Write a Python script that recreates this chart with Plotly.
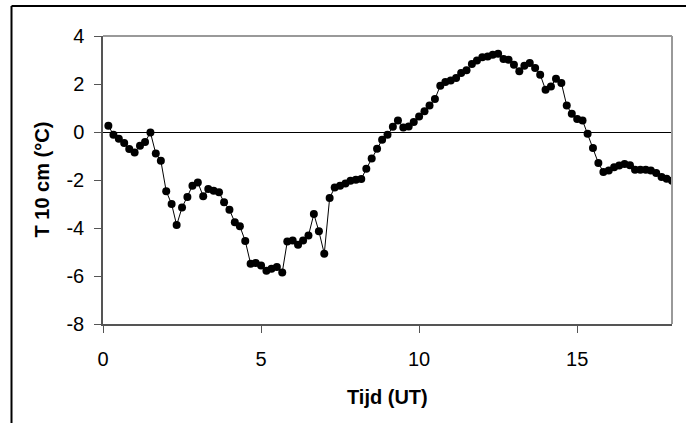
import plotly.graph_objects as go

# Time (UT, hours) at 10-minute steps
tijd = [
    0.17, 0.33, 0.5, 0.67, 0.83, 1.0,
    1.17, 1.33, 1.5, 1.67, 1.83, 2.0,
    2.17, 2.33, 2.5, 2.67, 2.83, 3.0,
    3.17, 3.33, 3.5, 3.67, 3.83, 4.0,
    4.17, 4.33, 4.5, 4.67, 4.83, 5.0,
    5.17, 5.33, 5.5, 5.67, 5.83, 6.0,
    6.17, 6.33, 6.5, 6.67, 6.83, 7.0,
    7.17, 7.33, 7.5, 7.67, 7.83, 8.0,
    8.17, 8.33, 8.5, 8.67, 8.83, 9.0,
    9.17, 9.33, 9.5, 9.67, 9.83, 10.0,
    10.17, 10.33, 10.5, 10.67, 10.83, 11.0,
    11.17, 11.33, 11.5, 11.67, 11.83, 12.0,
    12.17, 12.33, 12.5, 12.67, 12.83, 13.0,
    13.17, 13.33, 13.5, 13.67, 13.83, 14.0,
    14.17, 14.33, 14.5, 14.67, 14.83, 15.0,
    15.17, 15.33, 15.5, 15.67, 15.83, 16.0,
    16.17, 16.33, 16.5, 16.67, 16.83, 17.0,
    17.17, 17.33, 17.5, 17.67, 17.83, 18.0,
]

# Soil temperature at 10 cm (deg C)
t10 = [
    0.26, -0.11, -0.28, -0.46, -0.71, -0.85,
    -0.57, -0.42, -0.02, -0.90, -1.20, -2.47,
    -3.00, -3.88, -3.15, -2.71, -2.24, -2.10,
    -2.68, -2.38, -2.45, -2.51, -2.93, -3.24,
    -3.76, -3.93, -4.54, -5.49, -5.46, -5.56,
    -5.78, -5.70, -5.63, -5.85, -4.56, -4.52,
    -4.70, -4.52, -4.31, -3.42, -4.14, -5.07,
    -2.75, -2.31, -2.24, -2.15, -2.03, -1.99,
    -1.96, -1.53, -1.10, -0.70, -0.32, -0.11,
    0.22, 0.48, 0.19, 0.23, 0.42, 0.65,
    0.86, 1.10, 1.37, 1.93, 2.08, 2.15,
    2.25, 2.46, 2.57, 2.83, 2.98, 3.11,
    3.15, 3.22, 3.26, 3.04, 3.01, 2.80,
    2.53, 2.76, 2.87, 2.67, 2.39, 1.76,
    1.90, 2.22, 2.04, 1.10, 0.76, 0.54,
    0.48, -0.07, -0.67, -1.29, -1.67, -1.60,
    -1.47, -1.40, -1.33, -1.39, -1.57, -1.57,
    -1.57, -1.60, -1.71, -1.88, -1.95, -2.03,
]

x_ticks = [0, 5, 10, 15]
x_ticktext = ["0", "5", "10", "15"]
y_ticks = [-8, -6, -4, -2, 0, 2, 4]
y_ticktext = ["-8", "-6", "-4", "-2", "0", "2", "4"]
x_title = "Tijd (UT)"
y_title = "T 10 cm (°C)"

W, H = 686, 423
ML, MR, MT, MB = 103, 14, 36, 99
PW, PH = W - ML - MR, H - MT - MB

def px_to_paper_x(px):
    return (px - ML) / PW

def px_to_paper_y(py):
    return (H - MB - py) / PH

font_family = "Liberation Sans, Arial, sans-serif"

fig = go.Figure()
fig.add_trace(go.Scatter(
    x=tijd, y=t10, mode="lines+markers",
    line=dict(color="black", width=1),
    marker=dict(color="black", size=8, symbol="circle"),
    showlegend=False,
))

fig.update_layout(
    width=W, height=H,
    margin=dict(l=ML, r=MR, t=MT, b=MB, pad=0),
    paper_bgcolor="white", plot_bgcolor="white",
    font=dict(family=font_family, size=20, color="black"),
    xaxis=dict(
        range=[0, 18], tickvals=x_ticks, ticktext=x_ticktext,
        ticks="outside", ticklen=7,
        tickcolor="#555555", tickwidth=1,
        showline=True, linecolor="#555555", linewidth=1.5,
        showgrid=False, zeroline=False,
        tickfont=dict(size=20), ticklabelstandoff=9,
    ),
    yaxis=dict(
        range=[-8, 4], tickvals=y_ticks, ticktext=y_ticktext,
        ticks="outside", ticklen=7,
        tickcolor="#555555", tickwidth=1,
        showline=True, linecolor="#555555", linewidth=1.5,
        showgrid=False, zeroline=True, zerolinecolor="black", zerolinewidth=1.2,
        tickfont=dict(size=20), ticklabelstandoff=6,
    ),
    shapes=[
        # top and right frame of plot area (grey)
        dict(type="line", xref="paper", yref="paper", x0=0, x1=1, y0=1, y1=1,
             line=dict(color="#999999", width=2)),
        dict(type="line", xref="paper", yref="paper", x0=1, x1=1, y0=0, y1=1,
             line=dict(color="#999999", width=2)),
        # outer chart border (top and left)
        dict(type="line", xref="paper", yref="paper",
             x0=px_to_paper_x(11.5), x1=px_to_paper_x(W + 2),
             y0=px_to_paper_y(6), y1=px_to_paper_y(6),
             line=dict(color="black", width=2)),
        dict(type="line", xref="paper", yref="paper",
             x0=px_to_paper_x(11.5), x1=px_to_paper_x(11.5),
             y0=px_to_paper_y(6), y1=px_to_paper_y(H + 2),
             line=dict(color="black", width=2)),
    ],
    annotations=[
        dict(text="<b>" + x_title + "</b>", xref="paper", yref="paper",
             x=0.5, y=px_to_paper_y(397), xanchor="center", yanchor="middle",
             showarrow=False, font=dict(size=20)),
        dict(text="<b>" + y_title + "</b>", xref="paper", yref="paper",
             x=px_to_paper_x(41.5), y=0.5, xanchor="center", yanchor="middle",
             textangle=-90, showarrow=False, font=dict(size=20)),
    ],
)

fig.write_html(
    "out.html",
    config={"displayModeBar": False},
    post_script="document.body.style.margin='0';document.body.style.overflow='hidden';",
)
